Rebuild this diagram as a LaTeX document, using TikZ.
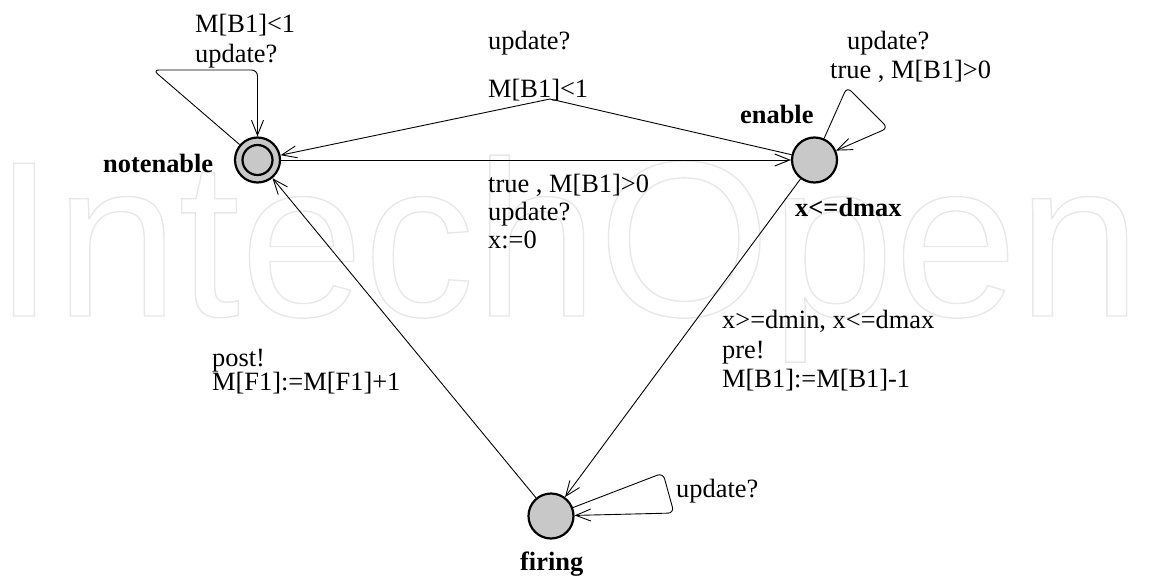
\documentclass[tikz,border=0pt]{standalone}
\usepackage{fontspec}
\setmainfont{Liberation Serif}
\newfontfamily\wmfont{Liberation Sans}
\usetikzlibrary{arrows.meta}
\definecolor{locfill}{RGB}{200,200,200}
\definecolor{wmcol}{RGB}{232,232,232}
\tikzset{
  loc/.style={circle, draw=black, line width=2.2pt, fill=locfill, minimum size=45pt, inner sep=0pt},
  trans/.style={draw=black, line width=0.9pt, -{Straight Barb[length=15pt,width=12pt,line width=0.9pt]}},
  lbl/.style={anchor=base west, inner sep=0pt, font=\fontsize{26.4}{29}\selectfont},
  bname/.style={anchor=base west, inner sep=0pt, font=\fontsize{26.4}{29}\selectfont\bfseries},
}
\begin{document}
\begin{tikzpicture}[x=1pt,y=-1pt]
\useasboundingbox (0,0) rectangle (1151,578);
% watermark
\node[anchor=base west, inner sep=0pt, text=wmcol, font=\wmfont\fontsize{222}{222}\selectfont] (wm) at (-7,316)
  {\special{pdf:literal direct 1 Tr 1.4 w}IntechOpen\special{pdf:literal direct 0 Tr}};
% locations
\node[loc] (notenable) at (257.5,160) {};
\draw[black, line width=2.2pt] (notenable.center) circle[radius=15pt];
\node[loc] (enable) at (814.5,160) {};
\node[loc] (firing) at (551,516) {};
% location names
\node[bname] (nNot) at (103,172) {notenable};
\node[bname] (nEn) at (740,123) {enable};
\node[bname] (nInv) at (795,216) {x<=dmax};
\node[bname] (nFir) at (520,570) {firing};
% helper coordinates
\coordinate (nl1) at (153,70);
\coordinate (nl2) at (257.5,70);
\coordinate (mid) at (550,99);
\coordinate (el1) at (847,87);
\coordinate (el2) at (888,128);
\coordinate (fl1) at (663,473);
\coordinate (fl2) at (674,513);
% transitions
\draw[trans, rounded corners=6pt] (notenable) -- (nl1) -- (nl2) -- (notenable);
\draw[trans] (notenable) -- (enable);
\draw[trans] (enable) -- (mid) -- (notenable);
\draw[trans, rounded corners=6pt] (enable) -- (el1) -- (el2) -- (enable);
\draw[trans] (enable) -- (firing);
\draw[trans] (firing) -- (notenable);
\draw[trans, rounded corners=6pt] (firing) -- (fl1) -- (fl2) -- (firing);
% labels
\node[lbl] (l1a) at (195,33) {M[B1]<1};
\node[lbl] (l1b) at (195,63) {update?};
\node[lbl] (l2a) at (488,50) {update?};
\node[lbl] (l2b) at (488,97) {M[B1]<1};
\node[lbl] (l3a) at (847,50) {update?};
\node[lbl] (l3b) at (830,78) {true , M[B1]>0};
\node[lbl] (l4a) at (488,192) {true , M[B1]>0};
\node[lbl] (l4b) at (488,220) {update?};
\node[lbl] (l4c) at (488,248) {x:=0};
\node[lbl] (l5a) at (722,328) {x>=dmin, x<=dmax};
\node[lbl] (l5b) at (722,358) {pre!};
\node[lbl] (l5c) at (722,387) {M[B1]:=M[B1]-1};
\node[lbl] (l6a) at (212,366) {post!};
\node[lbl] (l6b) at (212,390) {M[F1]:=M[F1]+1};
\node[lbl] (l7a) at (676,497) {update?};
\end{tikzpicture}
\end{document}
